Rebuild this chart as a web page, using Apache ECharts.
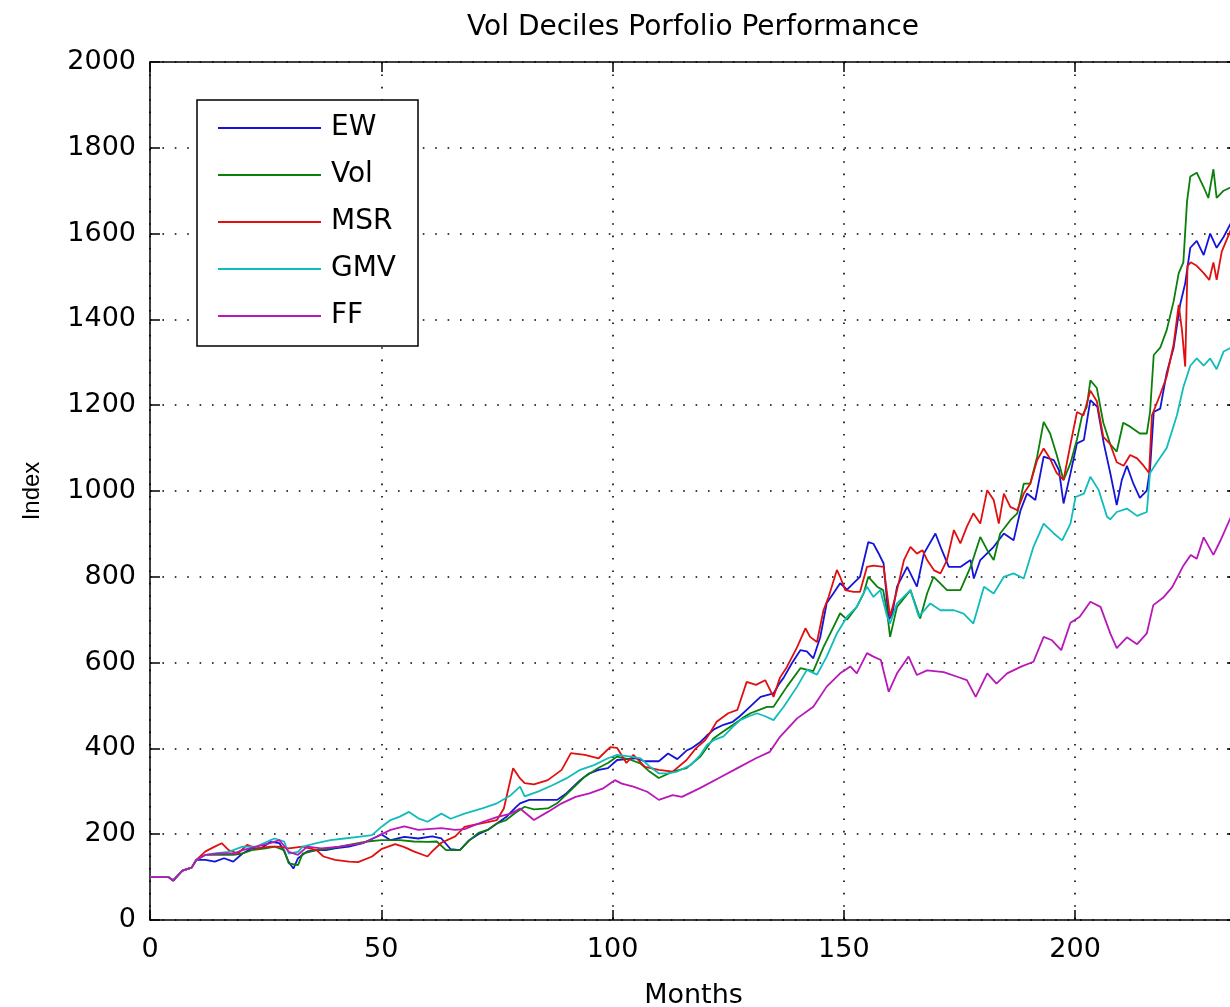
<!DOCTYPE html>
<html>
<head>
<meta charset="utf-8">
<title>Vol Deciles Porfolio Performance</title>
<script src="https://cdn.jsdelivr.net/npm/echarts@6/dist/echarts.min.js"></script>
<style>
  html, body { margin: 0; padding: 0; overflow: hidden; background: #fff; }
  #chart { width: 1240px; height: 1007px; }
</style>
</head>
<body>
<div id="chart"></div>
<script>
// Monthly index levels, [month, index], for each portfolio
const seriesNames = ['EW', 'Vol', 'MSR', 'GMV', 'FF'];

const EW = [[0,100],[4,100],[5,92],[6,104],[7,115],[9,122],[10,140],[12,140],[14,136],[16,144],[18,136],[20,155],[22,167],[24,167],[26,182],[28,179],[29,160],[30,135],[31,120],[32,144],[34,160],[36,163],[38,163],[40,167],[43,171],[46,179],[49,194],[50,200],[52,186],[55,194],[58,190],[61,195],[63,190],[65,165],[67,163],[69,186],[71,200],[73,210],[75,225],[77,240],[79,262],[80,272],[82,280],[85,280],[88,280],[90,295],[93,326],[95,342],[97,350],[99,354],[101,373],[103,375],[105,377],[107,370],[110,370],[112,388],[114,375],[116,395],[117,400],[119,415],[120.4,430],[122,445],[124,455],[126,462],[127.5,475],[129,490],[131,510],[132,520],[134.8,528],[136,550],[137,565],[138.8,599],[140.6,629],[142,626],[143.4,610],[144.9,659],[146.3,739],[147.8,762],[149.2,785],[150.7,770],[152.1,785],[153.5,800],[155.3,881],[156.4,877],[157.5,855],[158.6,831],[159.7,700],[160.5,714],[161.5,777],[163.7,823],[165.8,777],[167.3,854],[169.8,901],[171.2,862],[172.7,823],[175.2,823],[177.4,839],[178.1,796],[179.5,839],[182.4,870],[184.6,901],[186.7,885],[188.2,955],[189.6,994],[191.4,979],[193.2,1080],[195.4,1072],[196.5,1049],[197.5,971],[199,1041],[200.4,1111],[201.9,1119],[203.3,1212],[204.8,1196],[206.2,1111],[207.6,1042],[209,967],[210.1,1026],[211.2,1059],[212.6,1017],[214,984],[215.5,1001],[216.2,1051],[217,1184],[218.4,1192],[219.8,1275],[221.3,1334],[222.7,1434],[223.8,1484],[224.9,1567],[226.3,1583],[227.8,1550],[229.2,1600],[230.6,1567],[232.1,1592],[233.7,1625]];

const Vol = [[0,100],[4,100],[5,92],[7,115],[9,122],[10,140],[12,152],[15,152],[18,152],[20,155],[22,163],[25,167],[27,171],[29,163],[30,132],[32,128],[33,155],[36,163],[39,167],[43,175],[47,183],[50,186],[54,186],[57,183],[60,182],[62,183],[64,163],[67,163],[69,185],[71,203],[73,210],[75,225],[77,233],[79,250],[81,264],[83,258],[86,260],[88,272],[91,303],[94,334],[97,355],[99,366],[101,381],[104,373],[106,365],[108,346],[110,331],[113,346],[116,354],[119,381],[121.8,423],[124,440],[126.1,455],[128,470],[129.8,482],[133.4,497],[134.8,497],[137.7,544],[140.6,587],[143.4,580],[145.6,636],[147.8,684],[149.2,715],[150.7,700],[152.8,730],[154.3,762],[155.3,800],[157.2,777],[158.5,769],[159.3,722],[160,660],[161.5,730],[164.4,769],[166.5,703],[168,761],[169.4,800],[170.9,784],[172.3,769],[175.2,769],[177.4,823],[179.5,893],[181,862],[182.4,839],[183.8,901],[186,932],[187.5,948],[188.9,1017],[190.3,1017],[191.8,1080],[193.2,1161],[194.6,1134],[196,1085],[197.5,1025],[199,1065],[200.4,1120],[201.5,1175],[202.5,1195],[203.3,1258],[204.7,1240],[206.1,1159],[207.6,1109],[209,1092],[210.4,1159],[211.9,1150],[214,1134],[215.5,1134],[216.2,1184],[217,1317],[218.4,1334],[219.8,1375],[221.3,1442],[222.4,1508],[223.4,1533],[224.2,1675],[224.9,1733],[226.3,1742],[227.8,1708],[228.8,1683],[229.9,1750],[230.6,1683],[232.1,1700],[233.7,1708]];

const MSR = [[0,100],[4,100],[5,92],[7,115],[9,122],[10,140],[12,160],[14,171],[15.5,179],[17,163],[19,155],[21,175],[23,167],[26,171],[28,171],[30,167],[33,171],[36,163],[37.5,148],[40,140],[43,136],[45,135],[48,148],[50,165],[53,177],[55,170],[57,160],[60,148],[61,160],[63,180],[66,195],[68,217],[70,222],[73,228],[75,233],[76.5,260],[78.5,354],[80,330],[81,319],[83,316],[86,326],[89,350],[91,389],[94,385],[97,377],[99.5,403],[101,401],[103,366],[104.5,385],[107,357],[110,350],[113,346],[116,373],[118,400],[120,419],[121,435],[122.5,462],[125,482],[127,490],[129,555],[131,548],[133,559],[134.8,520],[136.2,565],[137.7,590],[139.9,636],[141.7,680],[142.7,660],[144.2,648],[145.6,722],[146.7,753],[148.5,816],[149.2,800],[150.3,769],[152.1,765],[153.5,765],[155,823],[156.4,826],[158.6,823],[160,707],[161.5,769],[163,839],[164.4,870],[165.8,854],[167,862],[168,839],[169.5,815],[170.9,808],[172.3,839],[173.8,909],[175.2,878],[176.6,917],[178,948],[179.5,924],[181,1002],[182.4,979],[183.5,924],[184.6,994],[186,963],[187.5,955],[188.9,994],[190.3,1017],[191.8,1072],[193.2,1099],[194.6,1075],[196,1042],[197.5,1026],[199,1109],[200.4,1184],[201.8,1176],[203.3,1234],[204.7,1209],[206.1,1126],[207.6,1109],[209,1067],[210.5,1059],[211.9,1084],[213.4,1076],[214.8,1059],[216,1042],[216.6,1176],[218.4,1225],[219.8,1267],[221.3,1342],[222.4,1434],[223.1,1375],[223.8,1290],[224.3,1525],[225,1533],[226.3,1525],[227.8,1508],[229,1492],[229.9,1533],[230.6,1492],[231.7,1558],[233.7,1610]];

const GMV = [[0,100],[4,100],[5,93],[7,115],[9,122],[10,140],[12,152],[14,155],[17,159],[20,171],[23,171],[26,186],[27,190],[29,183],[30,155],[32,159],[33,171],[36,179],[39,186],[42,190],[45,194],[48,198],[50,217],[52,233],[54,241],[56,252],[58,237],[60,229],[63,248],[65,236],[68,248],[72,261],[75,272],[78,291],[80,311],[81,288],[84,300],[87,314],[90,330],[93,350],[96,361],[99,377],[101,385],[104,381],[106,377],[108,358],[110,342],[112,342],[114,346],[117,362],[119,385],[120.4,408],[122,420],[124,428],[126,450],[127.6,466],[129.5,475],[131.2,482],[133,475],[134.8,466],[137,497],[139.9,544],[142,583],[144.2,572],[146.3,614],[148.5,668],[150.7,707],[152.8,730],[155,777],[156.4,753],[157.9,769],[159.3,710],[160,691],[161.5,738],[164.4,769],[166.2,707],[168.7,738],[170.9,722],[173.8,722],[175.9,714],[178,691],[180.3,777],[182.4,761],[184.6,800],[186.7,808],[188.9,796],[191,870],[193.2,924],[195.4,901],[197.2,885],[199,924],[200.1,986],[201.9,994],[203.3,1033],[205.1,1002],[206.9,940],[207.6,934],[209,951],[211.2,959],[213.4,942],[215.5,951],[216.2,1042],[217.7,1067],[219.8,1100],[222,1176],[223.4,1242],[224.9,1292],[226.3,1309],[227.8,1292],[229.2,1309],[230.6,1284],[232.1,1325],[233.7,1334]];

const FF = [[0,100],[4,100],[5,92],[7,115],[9,122],[10,140],[12,152],[15,155],[18,155],[20,163],[23,171],[26,179],[28,186],[30,159],[32,152],[34,171],[37,167],[41,171],[46,179],[49,194],[52,210],[55,218],[58,210],[60,212],[63,214],[66,210],[68,212],[72,229],[75,240],[78,248],[80,260],[83,233],[86,252],[89,272],[92,287],[95,295],[98,307],[100.5,326],[102,318],[104.5,311],[107.5,299],[110,280],[113,291],[115,287],[119,308],[123,331],[127,354],[131,377],[134,392],[136.2,427],[139.9,470],[143.4,497],[146.3,544],[149.2,575],[151.4,591],[152.8,575],[155,622],[156.4,614],[158,606],[159.7,532],[161.5,575],[164,614],[165.8,571],[168,582],[171.6,578],[174.5,567],[176.6,559],[178.5,520],[181,575],[183,551],[185.3,575],[188.2,590],[191,602],[193.2,660],[195,652],[197,629],[199,693],[201,707],[203.3,742],[205.5,730],[207.6,668],[209,634],[211.2,659],[213.4,643],[215.5,668],[216.9,734],[219,751],[221,776],[223.4,826],[225,851],[226.3,842],[227.8,892],[229.9,851],[231.4,884],[233.7,940]];

const seriesData = [EW, Vol, MSR, GMV, FF];
const seriesColors = ['#1414d8', '#0a7f0a', '#e01010', '#10bcbc', '#b818b8'];

const xTicks = { min: 0, max: 235, interval: 50 };
const yTicks = { min: 0, max: 2000, interval: 200 };

const FONT = 'DejaVu Sans';
const dotted = { color: '#000', width: 1.6, type: [1.6, 10.8] };
const axisLineStyle = { color: '#000', width: 1.5 };

const chart = echarts.init(document.getElementById('chart'), null, { renderer: 'canvas' });

chart.setOption({
  backgroundColor: '#fff',
  animation: false,
  graphic: [{
    type: 'text',
    x: 693, y: 28,
    style: {
      text: 'Vol Deciles Porfolio Performance',
      textAlign: 'center', textVerticalAlign: 'middle',
      font: '28px "' + FONT + '"', fill: '#000'
    }
  }],
  grid: { left: 150, right: 3, top: 62, bottom: 87, containLabel: false, outerBoundsMode: 'none' },
  legend: {
    orient: 'vertical',
    left: 197, top: 100,
    data: seriesNames,
    selectedMode: false,
    itemWidth: 103, itemHeight: 20, itemGap: 19,
    padding: [14, 22, 16, 20],
    borderColor: '#000', borderWidth: 1.5,
    backgroundColor: '#fff',
    itemStyle: { opacity: 0 },
    textStyle: { fontFamily: FONT, fontSize: 28, color: '#000', padding: [0, 0, 0, 5] }
  },
  xAxis: [{
    type: 'value', position: 'bottom',
    min: xTicks.min, max: xTicks.max, interval: xTicks.interval,
    name: 'Months', nameLocation: 'middle', nameGap: 62,
    nameTextStyle: { fontFamily: FONT, fontSize: 27, color: '#000' },
    axisLine: { show: true, onZero: false, lineStyle: axisLineStyle },
    axisTick: { show: true, inside: true, length: 10, lineStyle: axisLineStyle },
    axisLabel: { fontFamily: FONT, fontSize: 27, color: '#000', margin: 16, showMaxLabel: false },
    splitLine: { show: true, lineStyle: dotted }
  }, {
    type: 'value', position: 'top',
    min: xTicks.min, max: xTicks.max, interval: xTicks.interval,
    axisLine: { show: true, onZero: false, lineStyle: axisLineStyle },
    axisTick: { show: true, inside: true, length: 10, lineStyle: axisLineStyle },
    axisLabel: { show: false },
    splitLine: { show: false }
  }],
  yAxis: [{
    type: 'value', position: 'left',
    min: yTicks.min, max: yTicks.max, interval: yTicks.interval,
    name: 'Index', nameLocation: 'middle', nameGap: 106,
    nameTextStyle: { fontFamily: 'Liberation Sans', fontSize: 24, color: '#000' },
    axisLine: { show: true, onZero: false, lineStyle: axisLineStyle },
    axisTick: { show: true, inside: true, length: 10, lineStyle: axisLineStyle },
    axisLabel: { fontFamily: FONT, fontSize: 27, color: '#000', margin: 14, formatter: v => String(v) },
    splitLine: { show: true, lineStyle: dotted }
  }, {
    type: 'value', position: 'right',
    min: yTicks.min, max: yTicks.max, interval: yTicks.interval,
    axisLine: { show: true, onZero: false, lineStyle: axisLineStyle },
    axisTick: { show: true, inside: true, length: 10, lineStyle: axisLineStyle },
    axisLabel: { show: false },
    splitLine: { show: false }
  }],
  series: seriesNames.map((name, i) => ({
    name,
    type: 'line',
    data: seriesData[i],
    xAxisIndex: 0, yAxisIndex: 0,
    symbol: 'none',
    color: seriesColors[i],
    lineStyle: { width: 1.8, color: seriesColors[i] },
    itemStyle: { color: seriesColors[i] },
    emphasis: { disabled: true }
  }))
});
</script>
</body>
</html>
